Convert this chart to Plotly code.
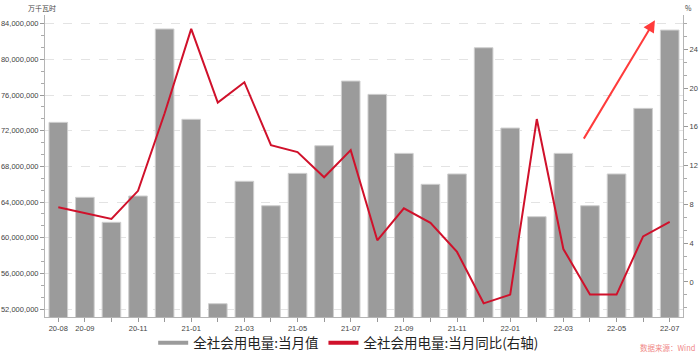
import plotly.graph_objects as go

months = ["20-08", "20-09", "20-10", "20-11", "20-12", "21-01", "21-02", "21-03",
          "21-04", "21-05", "21-06", "21-07", "21-08", "21-09", "21-10", "21-11",
          "21-12", "22-01", "22-02", "22-03", "22-04", "22-05", "22-06", "22-07"]
shown_labels = ["20-08", "20-09", "20-11", "21-01", "21-03", "21-05", "21-07", "21-09",
                "21-11", "22-01", "22-03", "22-05", "22-07"]
power_monthly = [72940000, 64530000, 61730000, 64680000, 83410000, 73280000, 52600000,
                 66330000, 63590000, 67220000, 70320000, 77570000, 76080000, 69460000,
                 65990000, 67150000, 81310000, 72300000, 62360000, 69460000, 63590000,
                 67150000, 74510000, 83290000]
power_yoy = [7.7, 7.1, 6.5, 9.4, 17.4, 26.1, 18.5, 20.6, 14.1, 13.4, 10.8, 13.6,
             4.3, 7.6, 6.1, 3.1, -2.2, -1.3, 16.8, 3.4, -1.3, -1.3, 4.7, 6.2]

name_bar = "全社会用电量:当月值"
name_line = "全社会用电量:当月同比(右轴)"
BAR = "#9b9b9b"
RED = "#d0112b"
FONT = "Liberation Sans, Noto Sans CJK SC, sans-serif"
CJK = "Noto Sans CJK SC, sans-serif"

ticktext = [m if m in shown_labels else "" for m in months]

fig = go.Figure()
fig.add_trace(go.Bar(x=months, y=power_monthly, name=name_bar, showlegend=False,
                     marker=dict(color=BAR, line=dict(color="#cfcfcf", width=1)),
                     width=0.7, yaxis="y"))
fig.add_trace(go.Scatter(x=months, y=power_yoy, name=name_line, mode="lines",
                         line=dict(color=RED, width=2), showlegend=False, yaxis="y2"))
# legend entries drawn as line samples
fig.add_trace(go.Scatter(x=[None], y=[None], name=name_bar, mode="lines",
                         line=dict(color=BAR, width=4), yaxis="y"))
fig.add_trace(go.Scatter(x=[None], y=[None], name=name_line, mode="lines",
                         line=dict(color=RED, width=4), yaxis="y2"))

fig.update_layout(
    width=700, height=354,
    margin=dict(l=45, r=17, t=15, b=37, autoexpand=False),
    paper_bgcolor="white", plot_bgcolor="white",
    font=dict(family=FONT, size=7, color="#444"),
    xaxis=dict(type="category", range=[-0.5, 23.5], tickmode="array",
               tickvals=months, ticktext=ticktext, ticks="outside", ticklen=4,
               tickcolor="#999", showline=True, linecolor="#b5b5b5", linewidth=1,
               showgrid=False, automargin=False, tickfont=dict(size=7.5, color="#444")),
    yaxis=dict(range=[51110000, 84980000], tick0=0, dtick=4000000, tickformat=",d",
               ticks="outside", ticklen=4, tickcolor="#999", showline=True,
               linecolor="#b5b5b5", linewidth=1, showgrid=True, gridcolor="#e3e3e3",
               griddash="dash", gridwidth=1, zeroline=False, automargin=False,
               tickfont=dict(size=7.5, color="#444"),
               minor=dict(dtick=4000000 / 3, tick0=0, ticks="outside", ticklen=3,
                          tickcolor="#aaa", showgrid=False)),
    yaxis2=dict(range=[-3.61, 27.53], overlaying="y", side="right", tick0=0, dtick=4,
                ticks="outside", ticklen=4, tickcolor="#999", showline=True,
                linecolor="#b5b5b5", linewidth=1, showgrid=False, zeroline=False,
                automargin=False, tickfont=dict(size=7.5, color="#444"),
                minor=dict(dtick=4 / 3, tick0=0, ticks="outside", ticklen=3,
                           tickcolor="#aaa")),
    legend=dict(orientation="h", x=0.476, xanchor="center", y=-0.086, yanchor="middle",
                font=dict(family=CJK, size=13.5, color="#222"), itemwidth=30,
                bgcolor="rgba(0,0,0,0)"),
    bargap=0.3,
)

fig.add_annotation(text="万千瓦时", xref="paper", yref="paper", x=-0.005, y=1.0,
                   xanchor="center", yanchor="bottom", showarrow=False,
                   font=dict(family=CJK, size=7, color="#444"))
fig.add_annotation(text="%", xref="paper", yref="paper", x=1.0, y=1.0,
                   xanchor="left", yanchor="bottom", showarrow=False,
                   font=dict(family=CJK, size=7, color="#444"))
fig.add_annotation(text="", xref="paper", yref="paper", x=0.956, y=0.983,
                   ax=-72, ay=120, showarrow=True, arrowhead=2, arrowsize=1.2,
                   arrowwidth=2, arrowcolor="#ff3b3b")
fig.add_annotation(text="数据来源：Wind", xref="paper", yref="paper", x=0.93, y=-0.075,
                   xanchor="left", yanchor="top", showarrow=False,
                   font=dict(family=CJK, size=7.5, color="#f08888"))

fig.write_html("out.html")
